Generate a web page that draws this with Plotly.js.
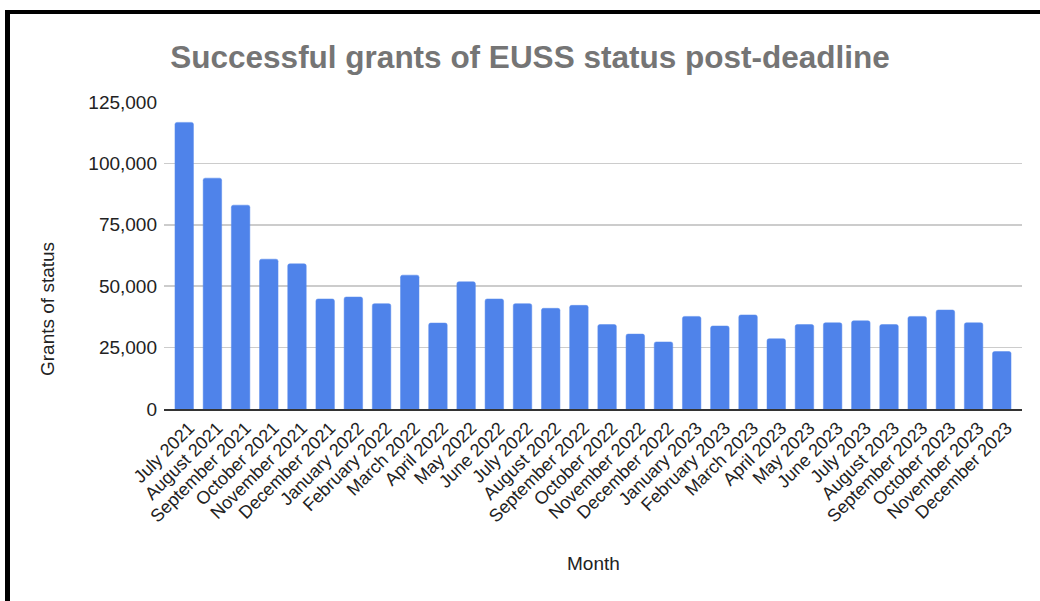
<!DOCTYPE html>
<html>
<head>
<meta charset="utf-8">
<script src="https://cdn.plot.ly/plotly-3.0.1.min.js"></script>
<style>
html,body{margin:0;padding:0;background:#fff;overflow:hidden;}
#chart{width:1040px;height:601px;position:absolute;left:0;top:0;}
#frame{position:absolute;left:5px;top:10px;width:1100px;height:700px;border-left:5px solid #000;border-top:4px solid #000;pointer-events:none;}
</style>
</head>
<body>
<div id="chart"></div>
<div id="frame"></div>
<script>
const months = ["July 2021","August 2021","September 2021","October 2021","November 2021","December 2021",
"January 2022","February 2022","March 2022","April 2022","May 2022","June 2022","July 2022","August 2022",
"September 2022","October 2022","November 2022","December 2022","January 2023","February 2023","March 2023",
"April 2023","May 2023","June 2023","July 2023","August 2023","September 2023","October 2023","November 2023","December 2023"];
const grants = [116700,94000,83000,61000,59100,44800,45600,42900,54500,35000,51800,44800,42900,41000,
42200,34400,30500,27300,37700,33800,38300,28600,34400,35100,35900,34400,37700,40300,35100,23400];
const yTicks = [0,25000,50000,75000,100000,125000];
const yTickText = ["0","25,000","50,000","75,000","100,000","125,000"];

const trace = {
  type:'bar', x: months, y: grants,
  marker:{color:'#4f83ea', line:{color:'#5b8cec', width:0.5}, cornerradius:2},
  width:0.656, hoverinfo:'none'
};
const font = "Arial, 'Liberation Sans', sans-serif";
const layout = {
  width:1040, height:601,
  margin:{l:164, r:18, t:102, b:192, pad:0},
  paper_bgcolor:'#fff', plot_bgcolor:'#fff',
  font:{family:font, color:'#222'},
  showlegend:false,
  title:{text:'<b>Successful grants of EUSS status post-deadline</b>', font:{family:font, size:31.5, color:'#757575'},
    x:530/1040, xanchor:'center', y:1-57/601, yanchor:'middle', xref:'container', yref:'container'},
  xaxis:{type:'category', range:[-0.717, 29.717], tickangle:-45, tickfont:{size:18, color:'#222'},
    showgrid:false, showline:true, linecolor:'#333', linewidth:1.5, ticks:'', automargin:false, ticklabelshift:5},
  yaxis:{range:[0,125000], tickvals:yTicks, ticktext:yTickText, tickfont:{size:19, color:'#222'},
    gridcolor:'#cccccc', gridwidth:1.5, zeroline:false, showline:false, ticks:'', ticklabelstandoff:6, automargin:false},
  annotations:[
    {text:'Grants of status', xref:'paper', yref:'paper', x:(47-164)/858, y:(409-309)/307, textangle:-90,
     showarrow:false, xanchor:'center', yanchor:'middle', font:{family:font, size:19, color:'#222'}},
    {text:'Month', xref:'paper', yref:'paper', x:(593-164)/858, y:(409-563)/307,
     showarrow:false, xanchor:'center', yanchor:'middle', font:{family:font, size:19, color:'#222'}}
  ]
};
Plotly.newPlot('chart', [trace], layout, {staticPlot:true, displayModeBar:false});
</script>
</body>
</html>
